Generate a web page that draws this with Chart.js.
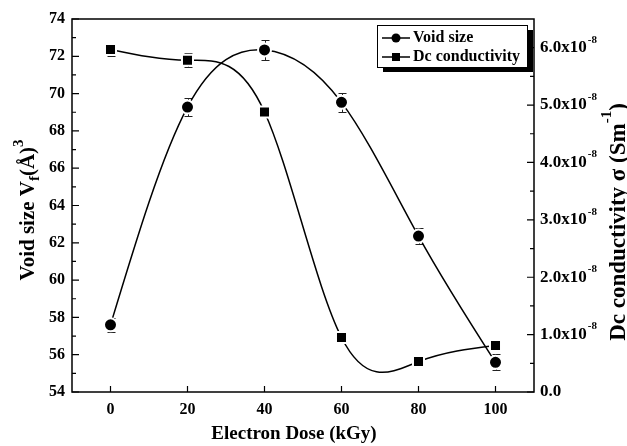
<!DOCTYPE html>
<html>
<head>
<meta charset="utf-8">
<script src="https://cdn.jsdelivr.net/npm/chart.js@4/dist/chart.umd.min.js"></script>
<style>
  html, body { margin: 0; padding: 0; background: #fff; }
  canvas { display: block; }
</style>
</head>
<body>
<canvas id="doseChart" width="627" height="446"></canvas>
<script>
// Data
const doses = [0, 20, 40, 60, 80, 100];
const voidSize = [57.6, 69.28, 72.34, 69.53, 62.36, 55.59];
const voidErr = [0.37, 0.46, 0.52, 0.49, 0.45, 0.43];
const dcCond = [5.97e-8, 5.78e-8, 4.88e-8, 0.95e-8, 0.53e-8, 0.81e-8];
const dcErr = [0.12e-8, 0.12e-8, 0.08e-8, 0.05e-8, 0.03e-8, 0.04e-8];

// Tick labels
const xTicks = [0, 20, 40, 60, 80, 100];
const yTicks = [54, 56, 58, 60, 62, 64, 66, 68, 70, 72, 74];
const yMinorTicks = [55, 57, 59, 61, 63, 65, 67, 69, 71, 73];
const y1Ticks = [0, 1e-8, 2e-8, 3e-8, 4e-8, 5e-8, 6e-8];
const y1MinorTicks = [0.5e-8, 1.5e-8, 2.5e-8, 3.5e-8, 4.5e-8, 5.5e-8];

const FONT = "'Liberation Serif', 'Times New Roman', serif";

function font(size) {
    return "bold " + size + "px " + FONT;
}

// draw a row of text parts (with sub/superscripts) centred on 0,0 of current transform
function drawParts(ctx, parts) {
    let total = 0;
    parts.forEach(p => {
        ctx.font = font(p.size);
        p.w = ctx.measureText(p.text).width;
        total += p.w;
    });
    let x = -total / 2;
    ctx.textAlign = "left";
    ctx.textBaseline = "alphabetic";
    parts.forEach(p => {
        ctx.font = font(p.size);
        ctx.fillText(p.text, x, p.dy);
        x += p.w;
    });
}

// Natural cubic spline through the points, written into the bezier control points
function naturalSpline(pts) {
    const n = pts.length;
    if (n < 3) return;
    const h = [];
    const M = new Array(n).fill(0);
    for (let i = 0; i < n - 1; i++) h[i] = pts[i + 1].x - pts[i].x;
    const a = [], b = [], c = [], d = [];
    for (let i = 1; i < n - 1; i++) {
        a.push(h[i - 1]);
        b.push(2 * (h[i - 1] + h[i]));
        c.push(h[i]);
        d.push(6 * ((pts[i + 1].y - pts[i].y) / h[i] - (pts[i].y - pts[i - 1].y) / h[i - 1]));
    }
    const m = b.length;
    for (let i = 1; i < m; i++) {
        const w = a[i] / b[i - 1];
        b[i] -= w * c[i - 1];
        d[i] -= w * d[i - 1];
    }
    const sol = new Array(m);
    sol[m - 1] = d[m - 1] / b[m - 1];
    for (let i = m - 2; i >= 0; i--) sol[i] = (d[i] - c[i] * sol[i + 1]) / b[i];
    for (let i = 0; i < m; i++) M[i + 1] = sol[i];

    pts[0].cp1x = pts[0].x; pts[0].cp1y = pts[0].y;
    pts[n - 1].cp2x = pts[n - 1].x; pts[n - 1].cp2y = pts[n - 1].y;
    for (let i = 0; i < n - 1; i++) {
        const p = pts[i], q = pts[i + 1], hh = h[i];
        const slope = (q.y - p.y) / hh;
        const s0 = slope - hh * (2 * M[i] + M[i + 1]) / 6;
        const s1 = slope + hh * (M[i] + 2 * M[i + 1]) / 6;
        p.cp2x = p.x + hh / 3;
        p.cp2y = p.y + s0 * hh / 3;
        q.cp1x = q.x - hh / 3;
        q.cp1y = q.y - s1 * hh / 3;
    }
}

const splinePlugin = {
    id: "naturalSpline",
    beforeDatasetDraw(chart, args) {
        const meta = args.meta;
        const line = meta.dataset;
        if (!line) return;
        naturalSpline(meta.data);
        line._pointsUpdated = true;
        line._path = undefined;
    }
};

const errorBarPlugin = {
    id: "errorBars",
    beforeDatasetsDraw(chart) {
        const ctx = chart.ctx;
        ctx.save();
        ctx.strokeStyle = "#222";
        ctx.lineWidth = 1;
        chart.data.datasets.forEach((ds, di) => {
            const meta = chart.getDatasetMeta(di);
            const yScale = chart.scales[ds.yAxisID];
            meta.data.forEach((pt, i) => {
                const v = ds.data[i].y;
                const e = ds.errorBars[i];
                const top = Math.round(yScale.getPixelForValue(v + e)) + 0.5;
                const bot = Math.round(yScale.getPixelForValue(v - e)) + 0.5;
                const x = Math.round(pt.x) + 0.5;
                ctx.beginPath();
                ctx.moveTo(x, top); ctx.lineTo(x, bot);
                ctx.moveTo(x - 4, top); ctx.lineTo(x + 4, top);
                ctx.moveTo(x - 4, bot); ctx.lineTo(x + 4, bot);
                ctx.stroke();
            });
        });
        ctx.restore();
    }
};

const framePlugin = {
    id: "frame",
    afterDraw(chart) {
        const ctx = chart.ctx;
        const area = chart.chartArea;
        const xs = chart.scales.x, ys = chart.scales.y, y1s = chart.scales.y1;
        ctx.save();
        ctx.strokeStyle = "#000";
        ctx.lineWidth = 1.5;
        ctx.strokeRect(area.left, area.top, area.right - area.left, area.bottom - area.top);

        ctx.lineWidth = 1.2;
        ctx.beginPath();
        xTicks.forEach(v => {
            const x = xs.getPixelForValue(v);
            ctx.moveTo(x, area.bottom); ctx.lineTo(x, area.bottom - 6);
        });
        yTicks.forEach(v => {
            const y = ys.getPixelForValue(v);
            ctx.moveTo(area.left, y); ctx.lineTo(area.left + 7, y);
        });
        yMinorTicks.forEach(v => {
            const y = ys.getPixelForValue(v);
            ctx.moveTo(area.left, y); ctx.lineTo(area.left + 4, y);
        });
        y1Ticks.forEach(v => {
            const y = y1s.getPixelForValue(v);
            ctx.moveTo(area.right, y); ctx.lineTo(area.right - 7, y);
        });
        y1MinorTicks.forEach(v => {
            const y = y1s.getPixelForValue(v);
            ctx.moveTo(area.right, y); ctx.lineTo(area.right - 4, y);
        });
        ctx.stroke();

        // right axis labels with exponent
        ctx.fillStyle = "#000";
        ctx.textBaseline = "middle";
        ctx.textAlign = "left";
        y1Ticks.forEach(v => {
            const y = y1s.getPixelForValue(v);
            const lx = area.right + 6;
            ctx.font = font(17);
            if (v === 0) {
                ctx.fillText("0.0", lx, y);
                return;
            }
            const main = (v / 1e-8).toFixed(1) + "x10";
            ctx.fillText(main, lx, y);
            const w = ctx.measureText(main).width;
            ctx.font = font(11);
            ctx.fillText("-8", lx + w + 1, y - 8);
        });

        // axis titles
        ctx.save();
        ctx.translate(294, 439);
        drawParts(ctx, [{ text: "Electron Dose (kGy)", size: 19, dy: 0 }]);
        ctx.restore();

        ctx.save();
        ctx.translate(27, 210);
        ctx.rotate(-Math.PI / 2);
        drawParts(ctx, [
            { text: "Void size V", size: 21, dy: 7 },
            { text: "f", size: 15, dy: 12 },
            { text: "(\u00C5)", size: 21, dy: 7 },
            { text: "3", size: 15, dy: -4 }
        ]);
        ctx.restore();

        ctx.save();
        ctx.translate(617, 222);
        ctx.rotate(-Math.PI / 2);
        drawParts(ctx, [
            { text: "Dc conductivity \u03C3 (Sm", size: 23, dy: 8 },
            { text: "-1", size: 15, dy: -6 },
            { text: ")", size: 23, dy: 8 }
        ]);
        ctx.restore();

        // legend with drop shadow
        const bx = 377, by = 25, bw = 150, bh = 42;
        ctx.fillStyle = "#000";
        ctx.fillRect(bx + 6, by + 5, bw, bh);
        ctx.fillStyle = "#fff";
        ctx.fillRect(bx, by, bw, bh);
        ctx.lineWidth = 1;
        ctx.strokeStyle = "#000";
        ctx.strokeRect(bx + 0.5, by + 0.5, bw, bh);
        const rows = [38, 57];
        chart.data.datasets.forEach((ds, i) => {
            const y = rows[i];
            ctx.strokeStyle = "#000";
            ctx.lineWidth = 1.5;
            ctx.beginPath();
            ctx.moveTo(382, y); ctx.lineTo(410, y);
            ctx.stroke();
            ctx.fillStyle = "#000";
            ctx.beginPath();
            if (ds.pointStyle === "circle") {
                ctx.arc(396, y, 4.5, 0, Math.PI * 2);
            } else {
                ctx.rect(392, y - 4, 8, 8);
            }
            ctx.fill();
            ctx.font = font(16);
            ctx.textAlign = "left";
            ctx.textBaseline = "middle";
            ctx.fillText(ds.label, 413, y);
        });
        ctx.restore();
    }
};

const ctx = document.getElementById("doseChart").getContext("2d");
new Chart(ctx, {
    type: "line",
    data: {
        datasets: [
            {
                label: "Void size",
                data: doses.map((d, i) => ({ x: d, y: voidSize[i] })),
                errorBars: voidErr,
                yAxisID: "y",
                borderColor: "#000",
                borderWidth: 1.5,
                tension: 0.4,
                pointStyle: "circle",
                pointRadius: 6.5,
                pointBackgroundColor: "#000",
                pointBorderColor: "#fff",
                pointBorderWidth: 2,
                fill: false
            },
            {
                label: "Dc conductivity",
                data: doses.map((d, i) => ({ x: d, y: dcCond[i] })),
                errorBars: dcErr,
                yAxisID: "y1",
                borderColor: "#000",
                borderWidth: 1.5,
                tension: 0.4,
                pointStyle: "rect",
                pointRadius: 7.8,
                pointBackgroundColor: "#000",
                pointBorderColor: "#fff",
                pointBorderWidth: 2,
                fill: false
            }
        ]
    },
    options: {
        responsive: false,
        animation: false,
        layout: { padding: { top: 19, left: 0, right: 0, bottom: 0 } },
        plugins: {
            legend: { display: false },
            tooltip: { enabled: false }
        },
        scales: {
            x: {
                type: "linear",
                min: -10,
                max: 110,
                afterBuildTicks: scale => { scale.ticks = xTicks.map(v => ({ value: v })); },
                afterFit: scale => { scale.height = 54; },
                grid: { display: false, drawTicks: false },
                border: { display: false },
                ticks: {
                    padding: 8,
                    color: "#000",
                    font: { family: FONT, size: 16, weight: "bold" }
                }
            },
            y: {
                position: "left",
                min: 54,
                max: 74,
                afterBuildTicks: scale => { scale.ticks = yTicks.map(v => ({ value: v })); },
                afterFit: scale => { scale.width = 72; },
                grid: { display: false, drawTicks: false },
                border: { display: false },
                ticks: {
                    padding: 7,
                    color: "#000",
                    font: { family: FONT, size: 16, weight: "bold" }
                }
            },
            y1: {
                position: "right",
                min: 0,
                max: 6.5e-8,
                afterBuildTicks: scale => { scale.ticks = y1Ticks.map(v => ({ value: v })); },
                afterFit: scale => { scale.width = 93; },
                grid: { display: false, drawTicks: false },
                border: { display: false },
                ticks: { display: false }
            }
        }
    },
    plugins: [splinePlugin, errorBarPlugin, framePlugin]
});
</script>
</body>
</html>
